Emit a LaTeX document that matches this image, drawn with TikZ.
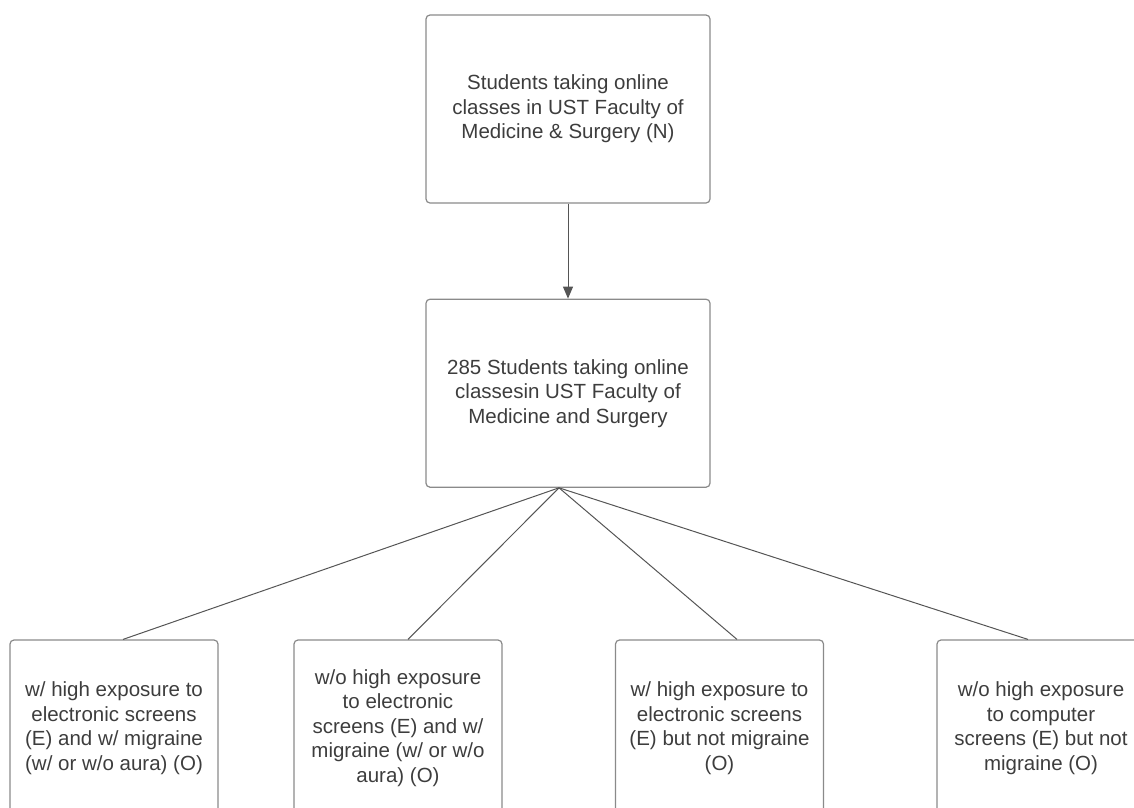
\documentclass[tikz,border=0pt]{standalone}
\usepackage{fontspec}
\setmainfont{Liberation Sans}
\usetikzlibrary{
    arrows.meta,
    positioning
}
\definecolor{boxgray}{HTML}{8A8A8A}
\definecolor{linegray}{HTML}{555555}
\definecolor{textgray}{HTML}{3D3D3D}

\begin{document}
\begin{tikzpicture}[
    x=1pt, y=-1pt,
    flowbox/.style = {rectangle, draw=boxgray, line width=1.2pt,
                      text=textgray, align=center,
                      font=\fontsize{20.5}{24.5}\selectfont,
                      minimum width=284pt, minimum height=188pt,
                      inner sep=0pt,
                      rounded corners=4pt},
    groupbox/.style = {flowbox, minimum width=208pt, minimum height=176pt},
    flowline/.style = {draw=linegray, line width=1pt},
    flowarrow/.style = {flowline, -{Triangle[length=12pt,width=10pt]}}
]
    \useasboundingbox (0,0) rectangle (1134,807);
    \clip (0,0) rectangle (1134,807);

    \node[flowbox] (POP) at (568,109) {Students taking online\\classes in UST Faculty of\\Medicine \& Surgery (N)};
    \node[flowbox] (SMP) [below=95pt of POP] {285 Students taking online\\classesin UST Faculty of\\Medicine and Surgery};

    \node[groupbox] (EO)  at (114,728)  {w/ high exposure to\\electronic screens\\(E) and w/ migraine\\(w/ or w/o aura) (O)};
    \node[groupbox] (NEO) at (398,728)  {w/o high exposure\\to electronic\\screens (E) and w/\\migraine (w/ or w/o\\aura) (O)};
    \node[groupbox] (ENO) at (719.5,728) {w/ high exposure to\\electronic screens\\(E) but not migraine\\(O)};
    \node[groupbox] (NENO) at (1041,728) {w/o high exposure\\to computer\\screens (E) but not\\migraine (O)};

    \draw[flowarrow] (POP.south) -- (SMP.north);
    \draw[flowline] ([xshift=-9pt]SMP.south) -- ([xshift=9pt]EO.north);
    \draw[flowline] ([xshift=-9pt]SMP.south) -- ([xshift=10pt]NEO.north);
    \draw[flowline] ([xshift=-9pt]SMP.south) -- ([xshift=17.5pt]ENO.north);
    \draw[flowline] ([xshift=-9pt]SMP.south) -- ([xshift=-13pt]NENO.north);

\end{tikzpicture}
\end{document}
